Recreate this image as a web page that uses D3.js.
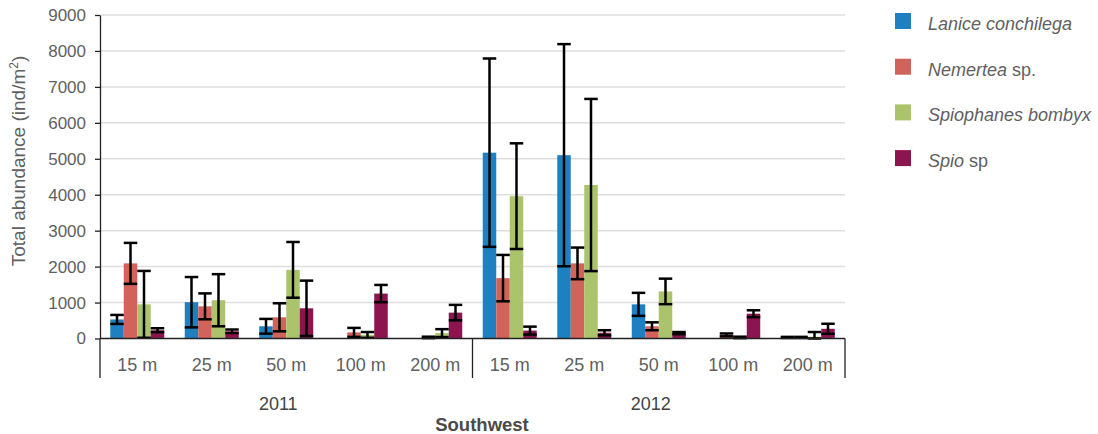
<!DOCTYPE html>
<html>
<head>
<meta charset="utf-8">
<script src="https://cdn.jsdelivr.net/npm/d3@7"></script>
<style>
  html, body { margin: 0; padding: 0; background: #fff; }
  svg { display: block; font-family: "Liberation Sans", Arial, sans-serif; }
</style>
</head>
<body>
<svg id="chart" width="1098" height="434"></svg>
<script>
// Sampling groups: year × depth
const years = ["2011", "2012"];
const depths = ["15 m", "25 m", "50 m", "100 m", "200 m"];
const regionLabel = "Southwest";

// Species (legend order)
const species = ["Lanice conchilega", "Nemertea sp.", "Spiophanes bombyx", "Spio sp"];

// Mean abundance (ind/m²), 2011 depths then 2012 depths
const laniceMean      = [530, 1010, 340, 0, 0,     5170, 5100, 950, 0, 30];
const nemerteaMean    = [2090, 895, 590, 170, 30,  1680, 2090, 340, 100, 30];
const spiophanesMean  = [950, 1065, 1910, 100, 150, 3960, 4270, 1310, 30, 50];
const spioMean        = [230, 200, 840, 1250, 720,  220, 160, 150, 690, 270];

// Error bar half-widths
const laniceErr      = [125, 700, 205, 0, 0,     2620, 3090, 320, 0, 15];
const nemerteaErr    = [570, 360, 390, 125, 20,  645, 440, 110, 40, 15];
const spiophanesErr  = [930, 725, 775, 80, 110,  1470, 2395, 355, 20, 130];
const spioErr        = [55, 50, 770, 240, 215,   110, 70, 30, 95, 140];

const yTicks = [0, 1000, 2000, 3000, 4000, 5000, 6000, 7000, 8000, 9000];
const colors = ["#1f80c1", "#d1635b", "#abc46b", "#8c1550"];

const means = [laniceMean, nemerteaMean, spiophanesMean, spioMean];
const errs = [laniceErr, nemerteaErr, spiophanesErr, spioErr];

const groups = [];
years.forEach(yr => depths.forEach(d => groups.push(yr + "|" + d)));

const svg = d3.select("#chart");
const plotLeft = 100, plotRight = 845, plotTop = 15, plotBottom = 338.5;
const textGrey = "#606060";

const x0 = d3.scaleBand().domain(groups).range([plotLeft, plotRight]).padding(0);
const x1 = d3.scaleBand().domain(d3.range(species.length))
  .range([0, x0.bandwidth()]).paddingInner(0).paddingOuter(0.76);
const y = d3.scaleLinear().domain([0, 9000]).range([plotBottom, plotTop]);

// Gridlines
svg.append("g")
  .selectAll("line")
  .data(yTicks.filter(t => t > 0))
  .join("line")
  .attr("x1", plotLeft).attr("x2", plotRight)
  .attr("y1", d => y(d)).attr("y2", d => y(d))
  .attr("stroke", "#dedede").attr("stroke-width", 1.5);

// Y axis
const yAxis = svg.append("g")
  .attr("transform", `translate(${plotLeft},0)`)
  .call(d3.axisLeft(y).tickValues(yTicks).tickSize(5).tickSizeOuter(0).tickPadding(9).tickFormat(d3.format("d")));
yAxis.select(".domain").attr("stroke", "#222").attr("stroke-width", 1.3);
yAxis.selectAll(".tick line").attr("stroke", "#222").attr("stroke-width", 1.3);
yAxis.selectAll("text").attr("font-size", 17).attr("fill", textGrey);

// Y axis title
svg.append("text")
  .attr("transform", `translate(25,161) rotate(-90)`)
  .attr("text-anchor", "middle")
  .attr("font-size", 19)
  .attr("fill", textGrey)
  .html('Total abundance (ind/m<tspan baseline-shift="super" font-size="12">2</tspan>)');

// Bars
const gGroups = svg.append("g")
  .selectAll("g")
  .data(groups.map((g, i) => ({ key: g, i })))
  .join("g")
  .attr("transform", d => `translate(${x0(d.key)},0)`);

gGroups.selectAll("rect")
  .data(d => species.map((s, k) => ({ k, v: means[k][d.i], e: errs[k][d.i] })))
  .join("rect")
  .attr("x", d => x1(d.k))
  .attr("width", x1.bandwidth())
  .attr("y", d => y(d.v))
  .attr("height", d => y(0) - y(d.v))
  .attr("fill", d => colors[d.k]);

// Error bars
const eb = gGroups.selectAll("g.err")
  .data(d => species.map((s, k) => ({ k, v: means[k][d.i], e: errs[k][d.i] })).filter(d => d.v > 0 || d.e > 0))
  .join("g").attr("class", "err");
const cx = d => x1(d.k) + x1.bandwidth() / 2;
const hw = x1.bandwidth() / 2;
eb.append("line")
  .attr("x1", cx).attr("x2", cx)
  .attr("y1", d => y(d.v + d.e)).attr("y2", d => y(Math.max(0, d.v - d.e)))
  .attr("stroke", "#000").attr("stroke-width", 2.5);
eb.append("line")
  .attr("x1", d => cx(d) - hw).attr("x2", d => cx(d) + hw)
  .attr("y1", d => y(d.v + d.e)).attr("y2", d => y(d.v + d.e))
  .attr("stroke", "#000").attr("stroke-width", 2.5);
eb.append("line")
  .attr("x1", d => cx(d) - hw).attr("x2", d => cx(d) + hw)
  .attr("y1", d => y(Math.max(0, d.v - d.e))).attr("y2", d => y(Math.max(0, d.v - d.e)))
  .attr("stroke", "#000").attr("stroke-width", 2.5);

// X axis line
svg.append("line").attr("x1", plotLeft).attr("x2", plotRight)
  .attr("y1", y(0)).attr("y2", y(0)).attr("stroke", "#222").attr("stroke-width", 1.3);

// Separators between years
const sepX = [plotLeft, x0(years[1] + "|" + depths[0]), plotRight];
svg.selectAll("line.sep").data(sepX).join("line").attr("class", "sep")
  .attr("x1", d => d).attr("x2", d => d)
  .attr("y1", y(0)).attr("y2", 378)
  .attr("stroke", "#222").attr("stroke-width", 1.3);

// Depth labels
svg.append("g").selectAll("text").data(groups).join("text")
  .attr("x", d => x0(d) + x0.bandwidth() / 2)
  .attr("y", 371)
  .attr("text-anchor", "middle")
  .attr("font-size", 18)
  .attr("fill", textGrey)
  .text(d => d.split("|")[1]);

// Year labels
svg.append("g").selectAll("text").data(years).join("text")
  .attr("x", yr => {
    const a = x0(yr + "|" + depths[0]);
    const b = x0(yr + "|" + depths[depths.length - 1]) + x0.bandwidth();
    return (a + b) / 2 - 8;
  })
  .attr("y", 410)
  .attr("text-anchor", "middle")
  .attr("font-size", 18)
  .attr("fill", "#444")
  .text(d => d);

// Region label
svg.append("text")
  .attr("x", 482).attr("y", 431)
  .attr("text-anchor", "middle")
  .attr("font-size", 18.5)
  .attr("font-weight", "bold")
  .attr("fill", "#4a4a4a")
  .text(regionLabel);

// Legend
const legend = svg.append("g").attr("transform", "translate(895,13)");
const legItems = legend.selectAll("g").data(species).join("g")
  .attr("transform", (d, i) => `translate(0,${i * 45.7})`);
legItems.append("rect").attr("width", 16).attr("height", 16)
  .attr("fill", (d, i) => colors[i]);
const legText = legItems.append("text")
  .attr("x", 33).attr("y", 17)
  .attr("font-size", 18)
  .attr("fill", textGrey);
legText.each(function (d) {
  const t = d3.select(this);
  const m = d.match(/^(.*?)( sp\.?)$/);
  if (m) {
    t.append("tspan").attr("font-style", "italic").text(m[1]);
    t.append("tspan").text(m[2]);
  } else {
    t.append("tspan").attr("font-style", "italic").text(d);
  }
});
</script>
</body>
</html>
